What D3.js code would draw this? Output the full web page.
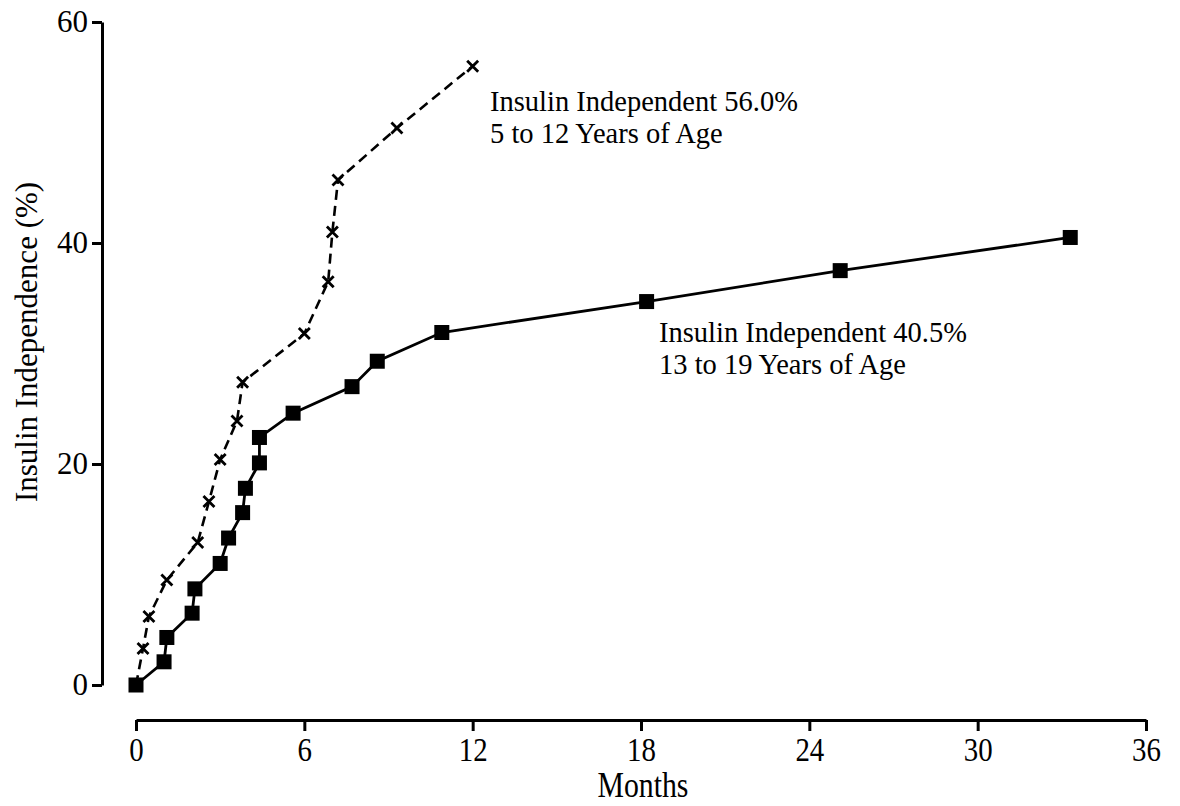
<!DOCTYPE html>
<html>
<head>
  <meta charset="utf-8">
  <style>
    body { margin: 0; background: #fff; }
    svg text { font-family: "Liberation Serif", "Times New Roman", serif; fill: #000; }
  </style>
</head>
<body>
  <svg></svg>
  <script src="https://d3js.org/d3.v7.min.js"></script>
  <script>
    let width = 1180, height = 806;

    // 13 to 19 years of age (solid line, squares)
    let olderMonths = [0, 1.0, 1.1, 2.0, 2.1, 3.0, 3.3, 3.8, 3.9, 4.4, 4.4, 5.6, 7.7, 8.6, 10.9, 18.2, 25.1, 33.3]
    let olderPct    = [0, 2.1, 4.3, 6.5, 8.7, 11.0, 13.3, 15.6, 17.8, 20.1, 22.4, 24.6, 27.0, 29.3, 31.9, 34.7, 37.5, 40.5]

    // 5 to 12 years of age (dashed line, crosses)
    let youngerMonths = [0, 0.25, 0.46, 1.1, 2.2, 2.6, 3.0, 3.6, 3.8, 6.0, 6.85, 7.0, 7.2, 9.3, 12.0]
    let youngerPct    = [0, 3.3, 6.2, 9.5, 12.9, 16.6, 20.4, 23.9, 27.4, 31.8, 36.5, 41.0, 45.7, 50.4, 56.0]

    let xTicks = [0, 6, 12, 18, 24, 30, 36]
    let yTicks = [0, 20, 40, 60]

    let svg = d3.select("svg")
        .attr("width", width)
        .attr("height", height)

    let x = d3.scaleLinear().domain([0, 36]).range([136, 1146])
    let y = d3.scaleLinear().domain([0, 60]).range([685, 22])

    // y axis
    let yAxis = svg.append("g")
        .attr("transform", "translate(102,0)")
        .call(d3.axisLeft(y).tickValues(yTicks).tickSize(10).tickSizeOuter(0).tickPadding(4))
    yAxis.select(".domain").attr("stroke-width", 3)
    yAxis.selectAll(".tick line").attr("stroke-width", 3)
    yAxis.selectAll(".tick text").style("font-size", "31px")

    // x axis
    let xAxis = svg.append("g")
        .attr("transform", "translate(0,720)")
        .call(d3.axisBottom(x).tickValues(xTicks).tickSize(11).tickSizeOuter(0).tickPadding(6))
    xAxis.select(".domain").attr("stroke-width", 3)
    xAxis.selectAll(".tick line").attr("stroke-width", 3)
    xAxis.selectAll(".tick text").style("font-size", "34px")
        .attr("transform", "scale(0.85,1)")
    svg.selectAll(".tick text").attr("font-family", null)
        .style("font-family", "'Liberation Serif', serif")

    // axis titles
    svg.append("text")
        .attr("x", 643).attr("y", 797)
        .attr("text-anchor", "middle")
        .attr("transform", "translate(643,0) scale(0.85,1) translate(-643,0)")
        .style("font-size", "35px")
        .text("Months")

    svg.append("text")
        .attr("transform", "translate(37,342) rotate(-90)")
        .attr("text-anchor", "middle")
        .style("font-size", "31px")
        .text("Insulin Independence (%)")

    let line = d3.line().x(d => x(d[0])).y(d => y(d[1]))

    let older = olderMonths.map((m, i) => [m, olderPct[i]])
    let younger = youngerMonths.map((m, i) => [m, youngerPct[i]])

    svg.append("path")
        .datum(younger)
        .attr("d", line)
        .attr("fill", "none")
        .attr("stroke", "#000")
        .attr("stroke-width", 2.6)
        .attr("stroke-dasharray", "10,6")

    svg.append("path")
        .datum(older)
        .attr("d", line)
        .attr("fill", "none")
        .attr("stroke", "#000")
        .attr("stroke-width", 2.8)

    // cross markers
    let c = 5.5
    svg.append("g").selectAll("path")
        .data(younger.slice(1))
        .enter()
        .append("path")
        .attr("d", d => {
          let cx = x(d[0]), cy = y(d[1])
          return "M" + (cx - c) + "," + (cy - c) + "L" + (cx + c) + "," + (cy + c) +
                 "M" + (cx - c) + "," + (cy + c) + "L" + (cx + c) + "," + (cy - c)
        })
        .attr("stroke", "#000")
        .attr("stroke-width", 2.8)

    // square markers
    let s = 15
    svg.append("g").selectAll("rect")
        .data(older)
        .enter()
        .append("rect")
        .attr("x", d => x(d[0]) - s / 2)
        .attr("y", d => y(d[1]) - s / 2)
        .attr("width", s)
        .attr("height", s)
        .attr("fill", "#000")

    // annotations
    let notes = [
      { x: 490, y: 111, lines: ["Insulin Independent 56.0%", "5 to 12 Years of Age"] },
      { x: 659, y: 342, lines: ["Insulin Independent 40.5%", "13 to 19 Years of Age"] }
    ]
    notes.forEach(n => {
      let t = svg.append("text")
          .attr("x", n.x).attr("y", n.y)
          .style("font-size", "28.5px")
      n.lines.forEach((l, i) => {
        t.append("tspan").attr("x", n.x).attr("dy", i === 0 ? 0 : 32).text(l)
      })
    })
  </script>
</body>
</html>
